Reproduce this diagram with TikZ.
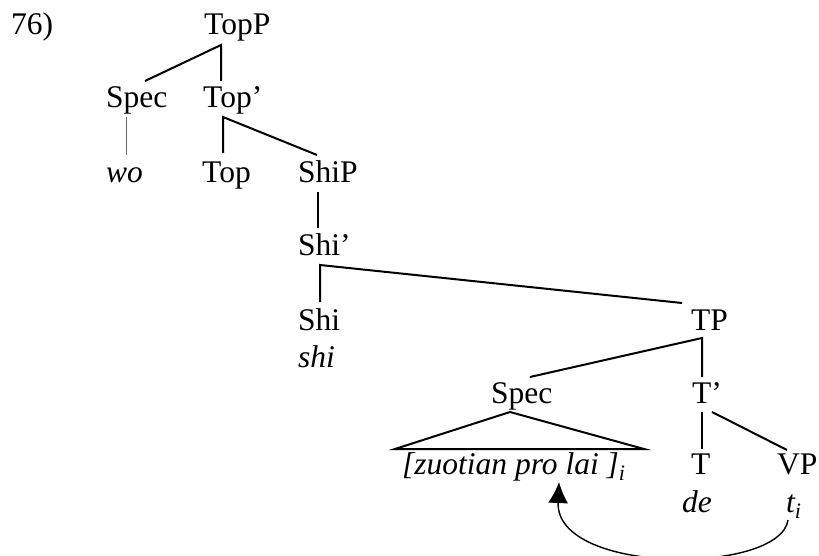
\documentclass[tikz,border=0pt]{standalone}
\usepackage{fontspec}
\setmainfont{Liberation Serif}
\usetikzlibrary{arrows.meta,calc}
\begin{document}
\begin{tikzpicture}[x=1pt,y=-1pt,
  lbl/.style={inner sep=0pt, anchor=base west, font=\fontsize{31.5}{36}\selectfont},
  branch/.style={line width=2pt, line cap=butt},
  thinbranch/.style={line width=0.9pt, draw=black!60},
  movearrow/.style={line width=1.4pt, -{Latex[length=21pt,width=20pt]}}]
\useasboundingbox (0,0) rectangle (819,556);
% labels
\node[lbl] (n76) at (11,35) {76)};
\node[lbl] (TopP) at (204,35) {TopP};
\node[lbl] (SpecA) at (106,108) {Spec};
\node[lbl] (Topbar) at (203,108) {Top’};
\node[lbl] (wo) at (106,183) {\itshape wo};
\node[lbl] (Top) at (202,183) {Top};
\node[lbl] (ShiP) at (298,183) {ShiP};
\node[lbl] (Shibar) at (298,255) {Shi’};
\node[lbl] (Shi) at (298,330) {Shi};
\node[lbl] (shi) at (298,367) {\itshape shi};
\node[lbl] (TP) at (691,330) {TP};
\node[lbl] (SpecB) at (491,403) {Spec};
\node[lbl] (Tbar) at (692,403) {T’};
\node[lbl] (zuo) at (402,474) {\itshape [zuotian pro lai ]\textsubscript{i}};
\node[lbl] (T) at (691,474) {T};
\node[lbl] (VP) at (777,474) {VP};
\node[lbl] (de) at (682,512) {\itshape de};
\node[lbl] (ti) at (786,512) {\itshape t\textsubscript{i}};
% branches
\draw[branch] ($(SpecA.base west)+(39,-27)$) -- ($(TopP.base west)+(17,10)$) -- ($(Topbar.base west)+(18,-27)$);
\draw[thinbranch] ($(SpecA.base west)+(20,9)$) -- ($(wo.base west)+(20,-28)$);
\draw[branch] ($(Top.base west)+(21,-30)$) -- ($(Topbar.base west)+(20,9)$) -- ($(ShiP.base west)+(19,-28)$);
\draw[branch] ($(ShiP.base west)+(20,9)$) -- ($(Shibar.base west)+(20,-27)$);
\draw[branch] ($(Shi.base west)+(22,-28)$) -- ($(Shibar.base west)+(22,10)$) -- ($(TP.base west)+(-9,-27)$);
\draw[branch] ($(SpecB.base west)+(39,-26)$) -- ($(TP.base west)+(11,8)$) -- ($(Tbar.base west)+(10,-26)$);
\draw[branch] ($(zuo.base west)+(-7,-25)$) -- ($(SpecB.base west)+(19,9)$) -- ($(zuo.base west)+(242,-25)$) -- cycle;
\draw[branch] ($(Tbar.base west)+(10,9)$) -- ($(T.base west)+(11,-25)$);
\draw[branch] ($(Tbar.base west)+(20,9)$) -- ($(VP.base west)+(10,-24)$);
% movement arrow
\draw[movearrow] ($(ti.base west)+(2,8)$) .. controls ($(ti.base west)+(-6,63)$) and ($(zuo.base west)+(153,101)$) .. ($(zuo.base west)+(157,8)$);
\end{tikzpicture}
\end{document}
